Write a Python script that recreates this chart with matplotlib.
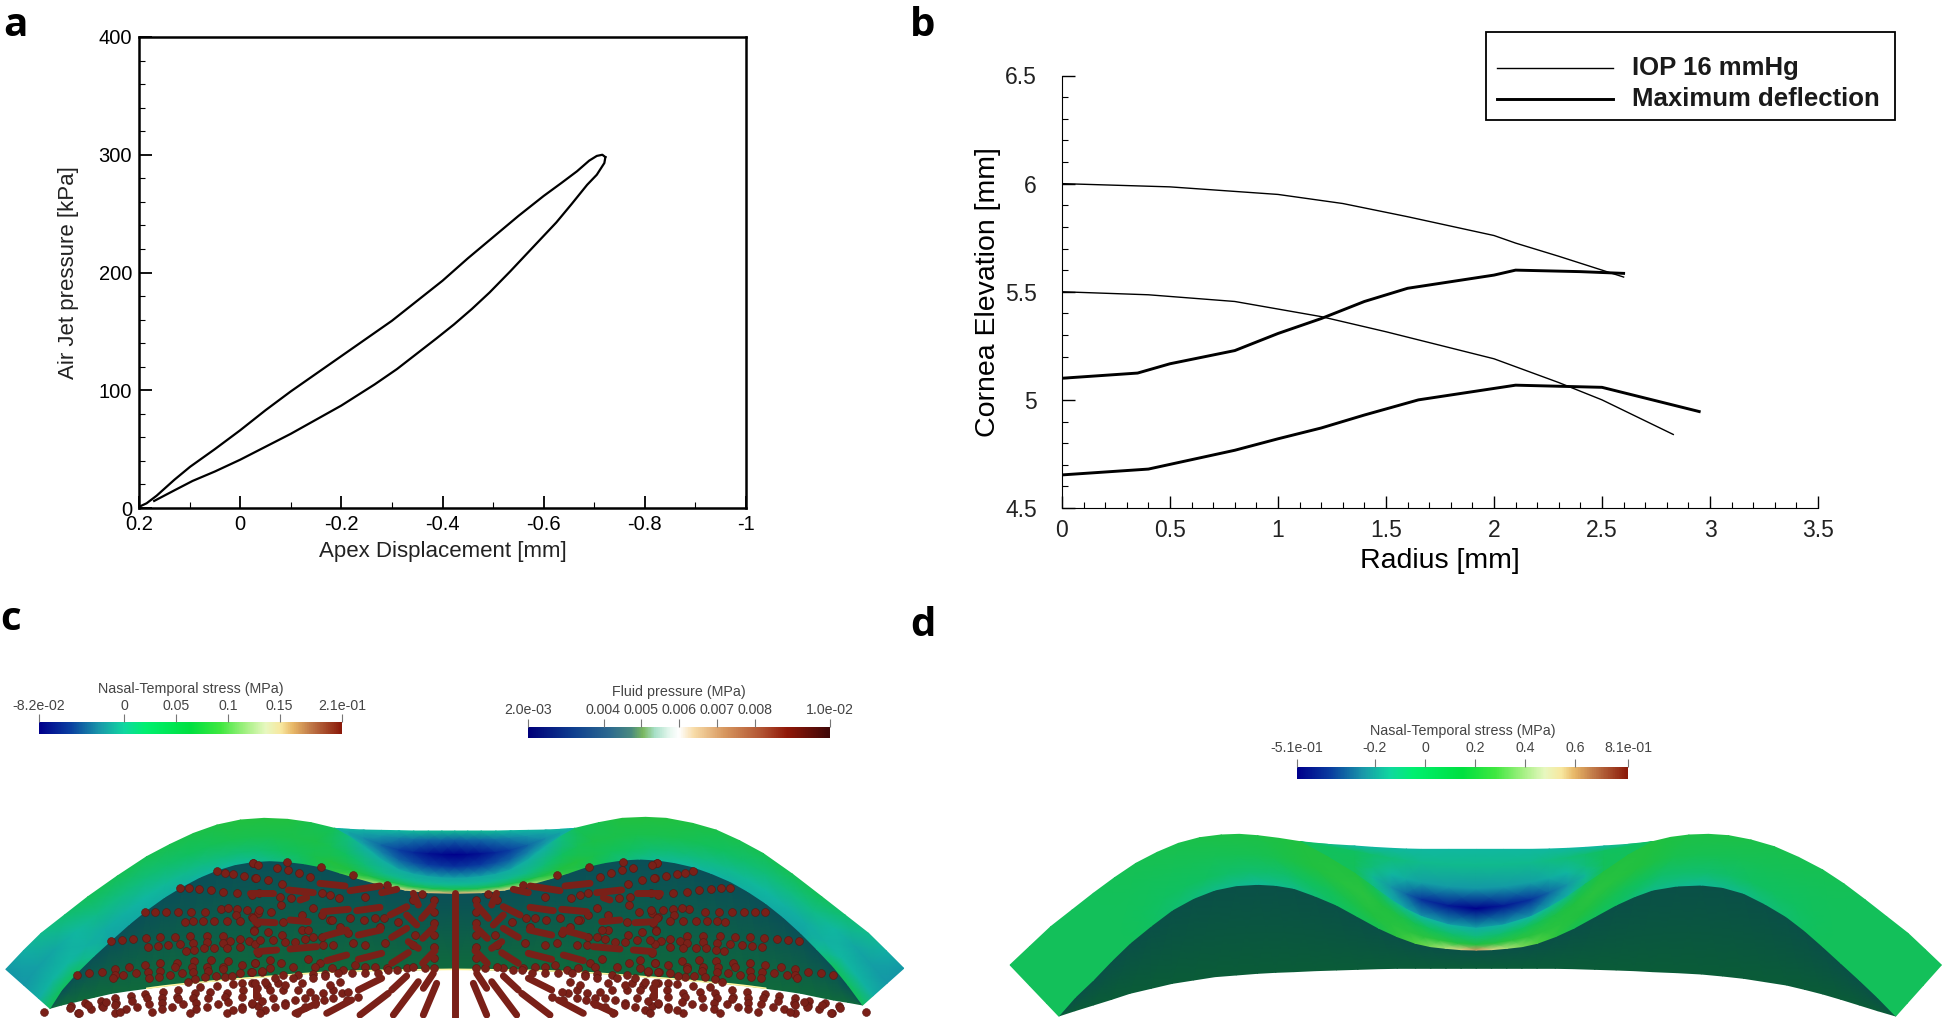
import numpy as np
import matplotlib
matplotlib.use("Agg")
import matplotlib.pyplot as plt
from matplotlib.colors import LinearSegmentedColormap
from matplotlib.patches import Rectangle

W, H = 1943, 1018
plt.rcParams['font.family'] = ['Liberation Sans', 'DejaVu Sans']

# --- panel a : pressure / displacement loop
a_x_up = [0.2, 0.185, 0.165, 0.13, 0.099, 0.05, 0, -0.05, -0.1, -0.15, -0.2, -0.25, -0.3, -0.35, -0.4, -0.45, -0.5, -0.55, -0.6, -0.635, -0.666, -0.69, -0.705, -0.716, -0.722]
a_y_up = [1, 4, 10.5, 24, 35, 50, 66, 83, 99, 114, 129, 144, 159, 176, 193, 212, 230, 248, 265, 276, 286, 295, 299, 300, 298]
a_x_down = [-0.722, -0.72, -0.705, -0.686, -0.655, -0.625, -0.58, -0.534, -0.493, -0.458, -0.423, -0.388, -0.352, -0.31, -0.266, -0.233, -0.2, -0.15, -0.1, -0.05, 0, 0.05, 0.094, 0.13, 0.17]
a_y_down = [298, 293, 283, 274.5, 258, 242.5, 222, 201, 183, 169, 156, 144, 132, 118, 105, 96, 87, 75, 63, 52, 41, 31, 23, 15, 6]
a_xticks = [0.2, 0, -0.2, -0.4, -0.6, -0.8, -1]
a_xlabels = ['0.2', '0', '-0.2', '-0.4', '-0.6', '-0.8', '-1']
a_yticks = [0, 100, 200, 300, 400]

# --- panel b : cornea profiles
b_r_thin1 = [0, 0.5, 1, 1.3, 1.6, 2, 2.1, 2.3, 2.6]
b_z_thin1 = [6.0, 5.985, 5.95, 5.908, 5.847, 5.76, 5.725, 5.664, 5.568]
b_r_thin2 = [0, 0.4, 0.8, 1, 1.2, 1.5, 1.6, 2, 2.3, 2.5, 2.83]
b_z_thin2 = [5.5, 5.486, 5.455, 5.42, 5.385, 5.315, 5.29, 5.19, 5.08, 5.0, 4.84]
b_r_thick1 = [0, 0.35, 0.5, 0.8, 1.0, 1.2, 1.4, 1.6, 2.0, 2.1, 2.4, 2.6]
b_z_thick1 = [5.1, 5.124, 5.167, 5.228, 5.307, 5.376, 5.455, 5.516, 5.577, 5.6, 5.593, 5.585]
b_r_thick2 = [0, 0.4, 0.8, 1, 1.2, 1.4, 1.65, 2.1, 2.5, 2.95]
b_z_thick2 = [4.653, 4.68, 4.767, 4.82, 4.87, 4.93, 5.0, 5.068, 5.058, 4.946]
b_xticks = [0, 0.5, 1, 1.5, 2, 2.5, 3, 3.5]
b_xlabels = ['0', '0.5', '1', '1.5', '2', '2.5', '3', '3.5']
b_yticks = [4.5, 5, 5.5, 6, 6.5]
b_ylabels = ['4.5', '5', '5.5', '6', '6.5']
legend_labels = ['IOP 16 mmHg', 'Maximum deflection']

# --- colorbars
c1_ticks = [-0.082, 0, 0.05, 0.1, 0.15, 0.21]
c1_labels = ['-8.2e-02', '0', '0.05', '0.1', '0.15', '2.1e-01']
c2_ticks = [0.002, 0.004, 0.005, 0.006, 0.007, 0.008, 0.01]
c2_labels = ['2.0e-03', '0.004', '0.005', '0.006', '0.007', '0.008', '1.0e-02']
d_ticks = [-0.51, -0.2, 0, 0.2, 0.4, 0.6, 0.81]
d_labels = ['-5.1e-01', '-0.2', '0', '0.2', '0.4', '0.6', '8.1e-01']

c_outer = [(10,1108),(40,1052),(70,1000),(110,945),(150,890),(200,828),(250,770),(290,733),(330,700),(370,675),(410,660),(450,655),(490,658),(530,668),(570,685),
           (595,710),(620,740),(650,780),(680,810),(705,823),(730,830),(753,834),(775,835),(797,834),(820,830),(845,823),(870,810),(900,780),(930,740),(955,710),(980,685),
           (1020,668),(1060,655),(1100,652),(1135,655),(1180,670),(1220,690),(1260,722),(1300,760),(1350,822),(1400,890),(1440,945),(1480,1000),(1510,1052),(1540,1105)]
c_inner = [(85,1225),(105,1170),(130,1120),(160,1068),(190,1020),(220,973),(250,930),(280,892),(310,860),(340,832),(370,810),(400,794),(430,785),(460,782),(490,785),
           (518,791),(545,800),(578,818),(610,835),(650,855),(690,870),(730,878),(775,880),(820,878),(860,870),(900,855),(940,835),(970,818),(1000,800),(1030,788),(1060,780),
           (1090,777),(1120,780),(1150,788),(1180,800),(1212,820),(1245,845),(1275,875),(1305,910),(1335,952),(1365,1000),(1392,1048),(1420,1100),(1445,1155),(1470,1215)]
c_bottom_y = [1225,1215,1205,1192,1180,1172,1165,1158,1152,1147,1142,1137,1133,1129,1125,1121,1118,1115,1113,1111,1110,1109,1108,
              1109,1110,1111,1113,1115,1118,1121,1125,1129,1133,1137,1142,1147,1152,1158,1165,1172,1180,1190,1200,1207,1215]
# field on every second column, outer to inner edge
c_band = [[.22,.22,.28,.42],[.33,.26,.30,.40],[.42,.34,.27,.25],[.44,.36,.30,.27],[.47,.40,.33,.28],[.50,.45,.36,.30],
          [.50,.46,.38,.32],[.42,.47,.42,.36],[.28,.40,.50,.45],[.27,.34,.48,.62],[.26,.32,.46,.76],[.25,.32,.46,.82],
          [.26,.32,.46,.76],[.27,.34,.48,.62],[.28,.40,.50,.45],[.42,.47,.42,.36],[.50,.46,.38,.32],[.50,.45,.36,.30],
          [.47,.40,.33,.28],[.44,.36,.30,.27],[.42,.34,.27,.25],[.33,.26,.30,.40],[.22,.22,.28,.42]]
c_rim_y = [685,688,690,691,692,693,693,693,693,693,693,693,692,691,690,688,685]
c_basin = [[.30,.30,.30,.30,.30],[.28,.25,.20,.22,.28],[.30,.18,.10,.15,.26],[.32,.15,.03,.10,.25],[.32,.14,.00,.08,.25],
           [.32,.15,.03,.10,.25],[.30,.18,.10,.15,.26],[.28,.25,.20,.22,.28],[.30,.30,.30,.30,.30]]

# --- panel d : same kind of section
d_outer = [(33,1095),(65,1040),(100,980),(135,930),(170,880),(205,833),(240,790),(275,757),(310,730),(345,713),(380,705),(410,703),(440,707),(475,715),(510,725),
           (555,770),(600,820),(630,860),(660,900),(685,928),(710,950),(755,975),(800,985),(845,975),(890,950),(920,922),(950,890),(980,852),(1010,815),(1050,765),(1090,725),
           (1120,712),(1150,705),(1182,703),(1215,707),(1252,720),(1290,740),(1330,772),(1370,810),(1405,852),(1440,900),(1475,950),(1510,1000),(1538,1048),(1565,1095)]
d_inner = [(113,1248),(140,1192),(170,1140),(200,1083),(230,1030),(265,978),(300,930),(335,895),(370,870),(405,857),(440,853),(470,856),(500,865),(535,888),(570,915),
           (605,950),(640,985),(670,1010),(700,1030),(725,1040),(750,1045),(775,1049),(800,1050),(825,1049),(850,1045),(875,1040),(900,1030),(930,1010),(960,985),(995,950),(1030,915),
           (1060,890),(1090,870),(1130,858),(1170,855),(1205,862),(1240,880),(1275,912),(1310,950),(1340,992),(1370,1040),(1400,1090),(1430,1140),(1460,1192),(1490,1248)]
d_bottom_y = [1248,1232,1215,1198,1180,1165,1150,1140,1130,1125,1120,1117,1115,1112,1110,1108,1106,1105,1105,1105,1105,1105,1105,
              1105,1105,1105,1105,1105,1106,1108,1110,1112,1115,1118,1122,1128,1135,1145,1155,1168,1182,1198,1215,1232,1248]
d_band = [[.42,.42,.42,.42],[.42,.42,.42,.42],[.42,.42,.42,.42],[.44,.42,.40,.38],[.46,.43,.40,.34],[.48,.44,.38,.32],
          [.48,.45,.38,.34],[.50,.50,.42,.40],[.50,.52,.50,.45],[.35,.48,.52,.60],[.30,.40,.52,.68],[.28,.36,.50,.85],
          [.30,.40,.52,.68],[.35,.48,.52,.60],[.50,.52,.50,.45],[.50,.50,.42,.40],[.48,.45,.38,.34],[.48,.44,.38,.32],
          [.46,.43,.40,.34],[.44,.42,.40,.38],[.42,.42,.42,.42],[.42,.42,.42,.42],[.42,.42,.42,.42]]
d_rim_y = [725,733,738,742,745,747,748,748,748,748,748,747,745,742,738,733,725]
d_basin = [[.40,.40,.40,.40,.40],[.30,.40,.42,.42,.42],[.30,.36,.30,.22,.28],[.30,.33,.24,.08,.22],[.30,.33,.22,.00,.26],
           [.30,.33,.24,.08,.22],[.30,.36,.30,.22,.28],[.30,.40,.42,.42,.42],[.40,.40,.40,.40,.40]]

# --- fluid particles of panel c, left half (right half is close to its mirror image)
dots_left = [(578,38),(470,63),(495,70),(520,72),(552,78),(585,85),(360,113),(388,115),(418,118),(452,120),(490,125),(530,128),(575,135),(598,128),
    (255,185),(285,185),(318,185),(353,185),(393,185),(435,185),(483,178),(505,175),(530,178),(562,180),(595,190),(575,200),(527,195),
    (375,215),(400,213),(430,213),(462,213),(500,213),(540,213),(590,218),(583,240),(390,257),(440,257),(490,258),
    (152,273),(187,271),(220,268),(258,265),(300,262),(345,260),(540,268),(567,272),(510,272),(490,278),(440,275),(400,280),(360,282),(325,285),(293,288),(265,290),(585,282),
    (500,293),(540,290),(463,293),(433,295),(402,300),(378,303),(595,310),(402,333),(452,330),(505,332),(350,338),(300,340),(255,345),(208,352),(165,358),(545,345),(490,350),(442,350),(395,350),(345,352),(585,340),
    (52,375),(88,368),(125,365),(165,375),(190,375),(227,370),(263,365),(300,362),(330,375),(365,368),(400,365),(443,362),(490,358),(540,368),(572,365),(605,365),
    (160,383),(268,385),(298,380),(405,388),(383,395),(435,380),(468,378),(495,380),(515,378),
    (575,398),(545,400),(520,402),(470,408),(420,412),(355,420),(310,425),(255,432),(212,438),(165,445),(122,452),(75,460),(33,468),
    (405,428),(450,425),(500,428),(548,420),(590,415),(350,440),(305,445),(260,445),(215,452),(168,460),(125,468),
    (400,445),(445,445),(495,442),(545,442),(590,438),(408,458),(355,448),(305,458),(268,462),(232,470),(197,478),(165,465),(130,470),(93,478),(55,488),
    (545,470),(575,462),(505,455),(473,462),(440,470),(408,478),(370,462),(335,470),(305,478),(275,487),(165,488),(390,488),(500,488),(520,480),(545,478),(595,468)]
dots_mid = [(8,38),(110,35),(212,50),(310,75),(410,105),(515,132),(90,140),(122,145),(215,130),(240,135),(267,145),(345,140),(490,150),
    (17,85),(55,90),(95,102),(147,70),(180,82),(80,55),(115,60),(25,45),(190,175),(27,180),(63,185),(92,165),(215,195),(155,195),(8,205),(240,210),(300,205),(342,210),(375,205),(402,205),(445,215),
    (100,215),(13,242),(55,245),(95,255),(155,240),(190,262),(215,262),(175,240),(270,230),(295,250),(245,210),(390,230),(495,255),(30,270),(68,270),(105,275),(135,275),(165,268),(310,280),(345,285),(405,280),(490,285),(220,285),(250,285),
    (15,340),(60,330),(92,338),(130,350),(175,328),(210,340),(195,350),(245,355),(280,360),(60,355),(35,362),(315,345),(345,350),(375,350),(410,355),(440,360),(470,355),(5,365),(100,375),(145,375),(190,372),(225,372),(265,368),(305,368),(345,368),(385,368),(415,360),(490,350),(525,355),
    (50,405),(85,400),(15,400),(60,420),(100,420),(145,420),(180,425),(220,430),(250,420),(275,430),(295,425),(325,440),(290,450),(248,445),(222,450),(195,445),(165,445),(135,450),(105,460),(70,445),(35,452),(5,460),(75,470),(45,480),(105,465),(165,470),(195,462),(30,490),(140,490),(240,405),(270,395),(155,400),(190,385),(225,378),(130,385),(75,385),(45,395),(105,405),
    (553,150),(553,185),(553,220),(553,255),(553,290),(553,325),(553,355)]
dots_tip_x = [44, 70, 88, 79, 106, 120]
dots_tip_y = [1012, 1008, 1005, 1013, 1002, 1012]
# elongated clusters, x1 y1 x2 y2
streaks_mid = [(210,100,285,108),(0,130,70,130),(115,120,190,128),(300,122,390,108),(395,128,440,118),(150,150,170,143),
    (220,185,295,178),(320,182,390,172),(420,195,470,170),(120,210,175,215),(15,215,75,218),(325,255,392,240),(425,262,470,235),(225,258,290,240),
    (120,297,200,290),(20,305,80,300),(230,332,290,315),(325,328,395,310),(425,340,475,308),(515,205,550,165),(518,265,552,232),(518,340,555,302),
    (490,130,505,165),(470,195,500,225),(475,275,505,295),(520,495,560,400),(430,495,505,395),(330,495,415,430),(230,490,305,450),(425,420,470,378),
    (520,415,550,370),(325,420,395,385),(135,490,200,460),(17,415,17,440)]
streak_center = (615, 130, 615, 500)

# --- colours
stress_cmap = LinearSegmentedColormap.from_list('stress', [(0, '#00008c'), (.1, '#0a3ea0'), (.2, '#1a9aaa'), (.28, '#10d8a0'), (.35, '#00f070'),
    (.5, '#00e040'), (.6, '#40e840'), (.68, '#a0f080'), (.75, '#e8f8c0'), (.8, '#f8e8a0'), (.84, '#e8b868'), (.9, '#c07848'), (1, '#8b1a0a')])
shell_cmap = LinearSegmentedColormap.from_list('shell', [(0, '#00008c'), (.1, '#0a3ea0'), (.2, '#158fa8'), (.3, '#10b8a0'), (.4, '#10c060'),
    (.5, '#20c040'), (.6, '#50d040'), (.72, '#d8e890'), (.8, '#e8c080'), (1, '#8b1a0a')])
fluid_cmap = LinearSegmentedColormap.from_list('fluid', [(0, '#00007a'), (.15, '#0f3f8f'), (.27, '#2d6a90'), (.34, '#4a8a80'), (.38, '#7ab860'),
    (.42, '#a8e0c8'), (.47, '#e8f8f0'), (.5, '#ffffff'), (.55, '#f8dca8'), (.65, '#d89860'), (.78, '#b05030'), (.86, '#901808'), (1, '#400808')])
dark_c = LinearSegmentedColormap.from_list('dark_c', ['#0a4f58', '#0f6a3c'])
dark_d = LinearSegmentedColormap.from_list('dark_d', ['#0a5048', '#0a5c38'])
DOT = '#7a2018'


def px_axes(fig, x0, y0, x1, y1):
    # rectangle given in picture pixels, y downwards
    return fig.add_axes([x0 / W, 1 - y1 / H, (x1 - x0) / W, (y1 - y0) / H])


def colorbar(fig, x0, y0, x1, y1, cmap, ticks, labels, title, label_pad, title_pad):
    ax = px_axes(fig, x0, y0, x1, y1)
    ax.imshow(np.linspace(0, 1, 400)[None, :], cmap=cmap, aspect='auto', extent=[ticks[0], ticks[-1], 0, 1])
    for s in ax.spines.values():
        s.set_visible(False)
    ax.set_yticks([])
    ax.xaxis.tick_top()
    ax.set_xticks(ticks)
    ax.set_xticklabels(labels, fontsize=10.2, color='#444444')
    ax.tick_params(axis='x', length=6, width=0.8, color='#777777', pad=label_pad)
    ax.set_title(title, fontsize=10.3, color='#444444', pad=title_pad)


def every_second(rows):
    # colour field was read on every second column, fill the others for the shading
    rows = np.array(rows, dtype=float)
    cols = np.arange(2 * len(rows) - 1)
    return np.column_stack([np.interp(cols, cols[::2], rows[:, j]) for j in range(rows.shape[1])])


def section(ax, to_px, outer_raw, inner_raw, bottom_y, band, rim_y, basin, dark):
    outer = to_px(outer_raw)
    inner = to_px(inner_raw)
    bottom = to_px([(p[0], b) for p, b in zip(inner_raw, bottom_y)])
    # basin seen through the dimple, its lower edge is the middle part of the outer curve
    edge = outer[14:31]
    rim = to_px([(p[0], y) for p, y in zip(outer_raw[14:31], rim_y)])
    fr = np.array([0, .2, .5, .75, 1])[None, :, None]
    g = rim[:, None, :] + fr * (edge - rim)[:, None, :]
    ax.pcolormesh(g[..., 0], g[..., 1], every_second(basin), cmap=shell_cmap, vmin=0, vmax=1, shading='gouraud')
    # dark inside wall
    xs = np.stack([inner[:, 0], inner[:, 0]], axis=1)
    ys = np.stack([inner[:, 1], bottom[:, 1]], axis=1)
    ax.pcolormesh(xs, ys, np.tile([0., 1.], (len(inner), 1)), cmap=dark, vmin=0, vmax=1, shading='gouraud')
    # cut band of the shell
    fr = np.array([0, .4, .75, 1])[None, :, None]
    g = outer[:, None, :] + fr * (inner - outer)[:, None, :]
    ax.pcolormesh(g[..., 0], g[..., 1], every_second(band), cmap=shell_cmap, vmin=0, vmax=1, shading='gouraud')
    return bottom


def crop_c(pts):
    p = np.array(pts, dtype=float)
    return np.column_stack([p[:, 0] / 1.704, 600 + p[:, 1] / 3])


def crop_d(pts):
    p = np.array(pts, dtype=float)
    return np.column_stack([990 + p[:, 0] / 1.645, 600 + p[:, 1] / 3])


fig = plt.figure(figsize=(W / 100, H / 100), dpi=100)

# full picture axes for panels c and d, in pixels
bg = fig.add_axes([0, 0, 1, 1])
bg.set_xlim(0, W)
bg.set_ylim(H, 0)
bg.axis('off')

bottom_c = section(bg, crop_c, c_outer, c_inner, c_bottom_y, c_band, c_rim_y, c_basin, dark_c)
bg.plot(bottom_c[6:-6, 0], bottom_c[6:-6, 1], color='#fff6a0', lw=1.2, solid_capstyle='round')
section(bg, crop_d, d_outer, d_inner, d_bottom_y, d_band, d_rim_y, d_basin, dark_d)

# particles: crops start at (60,850) and (250,850), 3x; the section is symmetric about x=455
left = np.array(dots_left, dtype=float) / 3 + [60, 850]
mid = np.array(dots_mid, dtype=float) / 3 + [250, 850]
tip = np.column_stack([dots_tip_x, dots_tip_y])
dots = np.vstack([left, mid, tip])
dots = np.vstack([dots, np.column_stack([2 * 455 - dots[:, 0], dots[:, 1]])])
bg.scatter(dots[:, 0], dots[:, 1], s=32, color=DOT, edgecolors='#5a1510', linewidths=0.4, zorder=3)
for x1, y1, x2, y2 in streaks_mid:
    xa, ya, xb, yb = x1 / 3 + 250, y1 / 3 + 850, x2 / 3 + 250, y2 / 3 + 850
    bg.plot([xa, xb], [ya, yb], color=DOT, lw=5.0, solid_capstyle='round', zorder=3)
    bg.plot([2 * 455 - xa, 2 * 455 - xb], [ya, yb], color=DOT, lw=5.0, solid_capstyle='round', zorder=3)
bg.plot([455, 455], [streak_center[1] / 3 + 850, streak_center[3] / 3 + 850], color=DOT, lw=5.0, solid_capstyle='round', zorder=3)

# panel a
ax = px_axes(fig, 139, 37, 746, 508)
ax.plot(a_x_up, a_y_up, color='k', lw=1.6)
ax.plot(a_x_down, a_y_down, color='k', lw=1.6)
ax.set_xlim(0.2, -1)
ax.set_ylim(0, 400)
ax.set_xticks(a_xticks)
ax.set_xticklabels(a_xlabels)
ax.set_yticks(a_yticks)
ax.set_xticks(np.arange(-1, 0.21, 0.1), minor=True)
ax.set_yticks(np.arange(0, 401, 20), minor=True)
ax.tick_params(which='major', direction='in', length=9, width=1.3, labelsize=14.5, pad=5)
ax.tick_params(which='minor', direction='in', length=4.5, width=0.8)
ax.set_xlabel('Apex Displacement [mm]', fontsize=16, labelpad=5, color='#222222')
ax.set_ylabel('Air Jet pressure [kPa]', fontsize=16, labelpad=14, color='#222222')
for s in ax.spines.values():
    s.set_linewidth(1.8)

# panel b
ax = px_axes(fig, 1062, 75.5, 1818, 508)
ax.patch.set_alpha(0)
ax.plot(b_r_thin1, b_z_thin1, color='k', lw=1.0)
ax.plot(b_r_thin2, b_z_thin2, color='k', lw=1.0)
ax.plot(b_r_thick1, b_z_thick1, color='k', lw=2.1)
ax.plot(b_r_thick2, b_z_thick2, color='k', lw=2.1)
ax.set_xlim(0, 3.5)
ax.set_ylim(4.5, 6.5)
ax.set_xticks(b_xticks)
ax.set_xticklabels(b_xlabels)
ax.set_yticks(b_yticks)
ax.set_yticklabels(b_ylabels)
ax.set_xticks(np.arange(0, 3.51, 0.1), minor=True)
ax.set_yticks(np.arange(4.5, 6.51, 0.1), minor=True)
ax.tick_params(which='major', direction='in', length=9, width=1.0, labelsize=16.5, labelcolor='#222222')
ax.tick_params(axis='x', which='major', pad=8)
ax.tick_params(axis='y', which='major', pad=18)
ax.tick_params(which='minor', direction='in', length=4.5, width=0.8)
ax.set_xlabel('Radius [mm]', fontsize=20.5, labelpad=4)
ax.set_ylabel('Cornea Elevation [mm]', fontsize=20.5, labelpad=3)
ax.spines['top'].set_visible(False)
ax.spines['right'].set_visible(False)

# legend box of panel b, laid out like the original one
bg.add_patch(Rectangle((1486, 32), 409, 88, facecolor='white', edgecolor='k', lw=1.3))
bg.plot([1497, 1613], [68, 68], color='k', lw=1.0)
bg.plot([1497, 1613], [98.5, 98.5], color='k', lw=2.1)
bg.text(1632, 68, legend_labels[0], fontsize=18.5, fontweight='bold', va='center', color='#1a1a1a')
bg.text(1632, 98.5, legend_labels[1], fontsize=18.5, fontweight='bold', va='center', color='#1a1a1a')

# colorbars
colorbar(fig, 39, 722, 342, 734, stress_cmap, c1_ticks, c1_labels, 'Nasal-Temporal stress (MPa)', 0.5, 21)
colorbar(fig, 528, 727, 830, 738, fluid_cmap, c2_ticks, c2_labels, 'Fluid pressure (MPa)', 1.5, 22)
colorbar(fig, 1297, 767, 1628, 779, stress_cmap, d_ticks, d_labels, 'Nasal-Temporal stress (MPa)', 3, 23)

# panel letters
for s, x, y in [('a', 3, 36), ('b', 910, 36), ('c', 0, 630), ('d', 910, 636)]:
    fig.text(x / W, 1 - y / H, s, fontsize=29, fontweight='bold', family='Open Sans', va='baseline')

fig.savefig('out.png', dpi=100)
